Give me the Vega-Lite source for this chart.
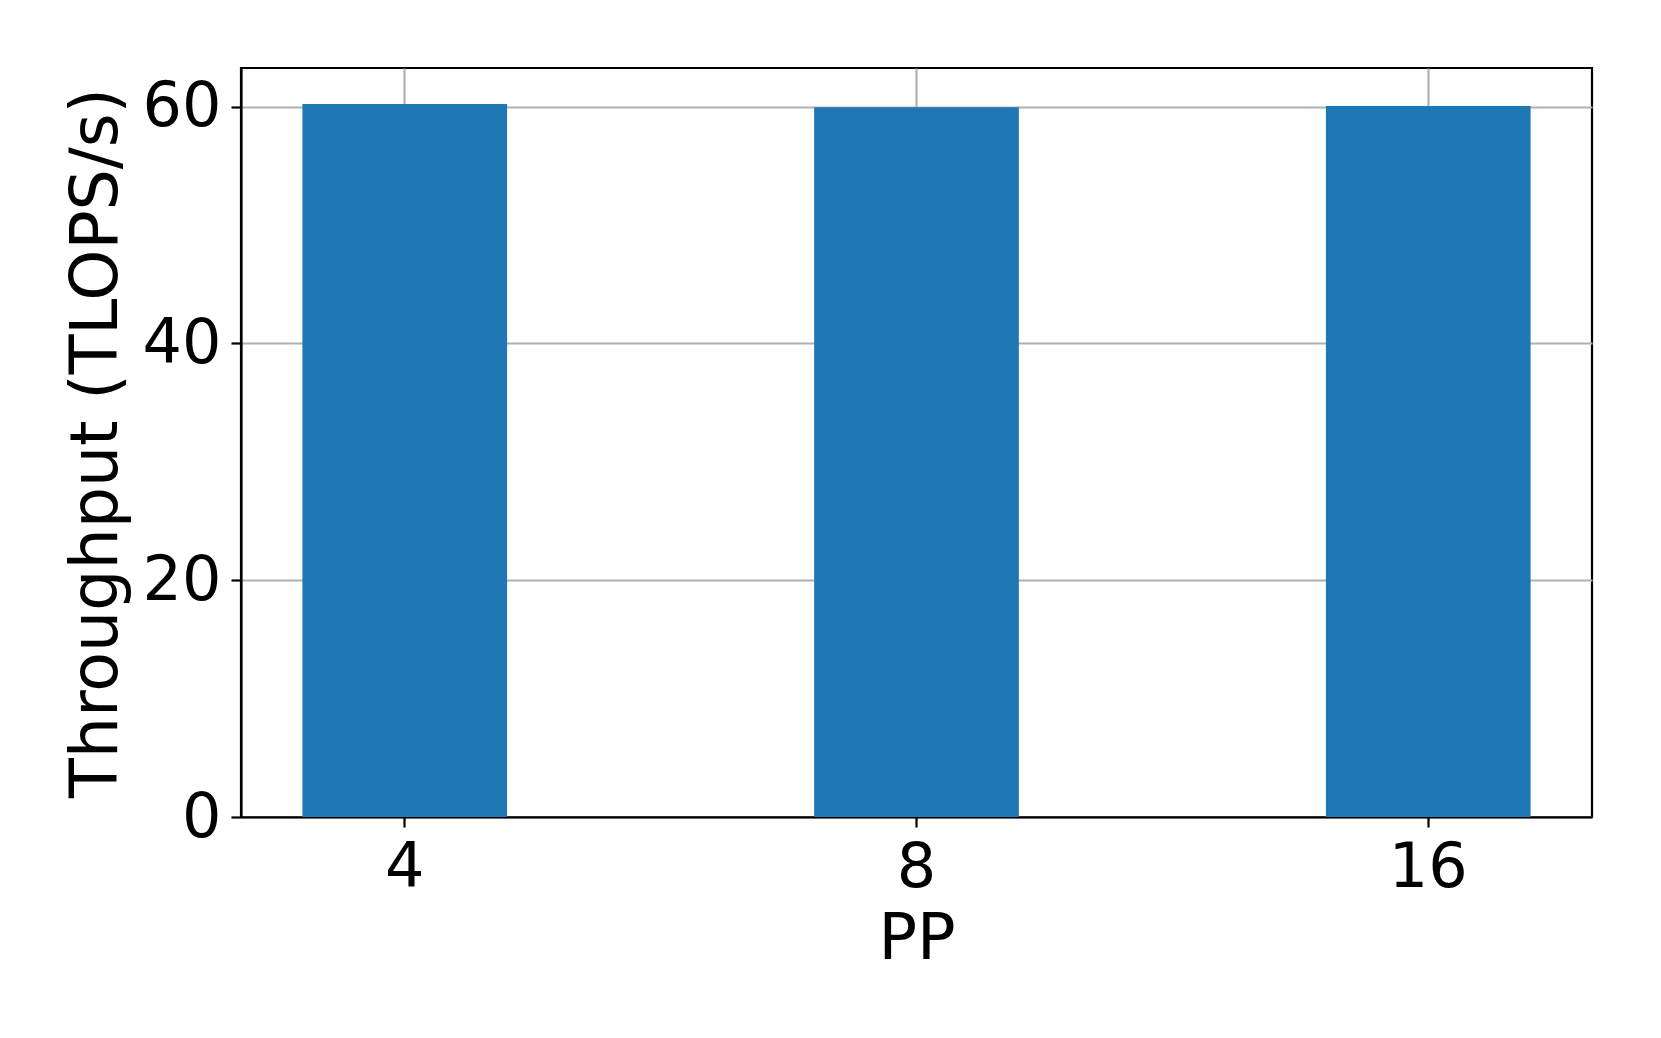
{
  "$schema": "https://vega.github.io/schema/vega-lite/v6.json",
  "autosize": {"type": "none"},
  "padding": {"left": 241, "top": 68, "right": 69, "bottom": 221},
  "width": 1351,
  "height": 749,
  "background": "white",
  "data": {
    "values": [
      {"PP": "4", "throughput": 60.23},
      {"PP": "8", "throughput": 59.95},
      {"PP": "16", "throughput": 60.06}
    ]
  },
  "mark": {"type": "bar", "color": "#1f77b4"},
  "encoding": {
    "x": {
      "field": "PP",
      "type": "nominal",
      "sort": ["4", "8", "16"],
      "scale": {"paddingInner": 0.6, "paddingOuter": 0.12},
      "axis": {
        "title": "PP",
        "bandPosition": 0.5,
        "labelAngle": 0,
        "labelFont": "DejaVu Sans",
        "labelFontSize": 62,
        "labelColor": "black",
        "labelBaseline": "alphabetic",
        "labelPadding": 59,
        "tickSize": 10,
        "tickWidth": 2.2,
        "tickColor": "black",
        "domainColor": "black",
        "domainWidth": 2.2,
        "grid": true,
        "gridColor": "#b0b0b0",
        "gridWidth": 2.2,
        "titleFont": "DejaVu Sans",
        "titleFontSize": 64,
        "titleFontWeight": "normal",
        "titleColor": "black",
        "titleBaseline": "alphabetic",
        "titleY": 141
      }
    },
    "y": {
      "field": "throughput",
      "type": "quantitative",
      "scale": {"domain": [0, 63.27], "nice": false, "zero": true},
      "axis": {
        "title": "Throughput (TLOPS/s)",
        "values": [0, 20, 40, 60],
        "labelFont": "DejaVu Sans",
        "labelFontSize": 62,
        "labelColor": "black",
        "labelPadding": 10,
        "tickSize": 10,
        "tickWidth": 2.2,
        "tickColor": "black",
        "domainColor": "black",
        "domainWidth": 2.2,
        "grid": true,
        "gridColor": "#b0b0b0",
        "gridWidth": 2.2,
        "titleFont": "DejaVu Sans",
        "titleFontSize": 65,
        "titleFontWeight": "normal",
        "titleColor": "black",
        "titleAngle": -90,
        "titleBaseline": "alphabetic",
        "titleAlign": "center",
        "titleX": -125,
        "titleY": 374.5
      }
    }
  },
  "config": {
    "view": {"stroke": "black", "strokeWidth": 2.2}
  }
}
